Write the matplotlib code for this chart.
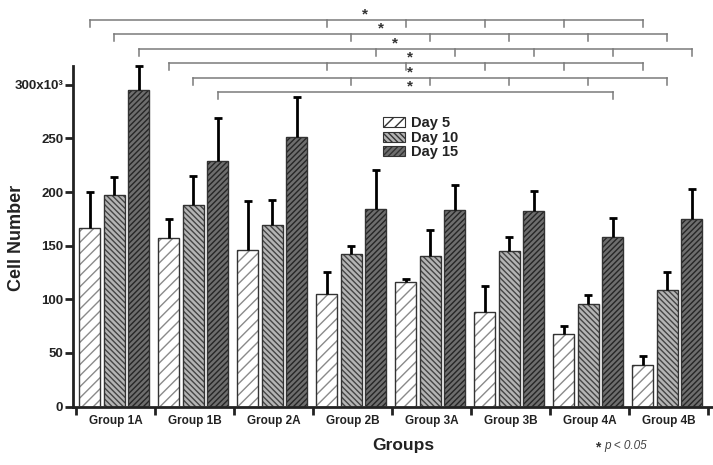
import matplotlib
matplotlib.use("Agg")
import matplotlib.pyplot as plt
import numpy as np

plt.rcParams['font.family'] = ['Liberation Sans', 'DejaVu Sans']
plt.rcParams['hatch.linewidth'] = 1.0

groups = ['Group 1A', 'Group 1B', 'Group 2A', 'Group 2B',
          'Group 3A', 'Group 3B', 'Group 4A', 'Group 4B']
days = ['Day 5', 'Day 10', 'Day 15']

# mean cell number (x10^3) and upper error
day5 = [166, 157, 146, 105, 116, 88, 68, 39]
day5_err = [34, 18, 46, 20, 3, 24, 7, 8]
day10 = [197, 188, 169, 142, 140, 145, 96, 109]
day10_err = [17, 27, 24, 8, 25, 13, 8, 16]
day15 = [295, 229, 251, 184, 183, 182, 158, 175]
day15_err = [23, 40, 38, 37, 24, 19, 18, 28]

yticks = [0, 50, 100, 150, 200, 250, 300]
ytick_labels = ['0', '50', '100', '150', '200', '250', '300x10³']

# significance brackets: (day index, reference group, compared groups)
brackets = [
    (0, 0, [3, 4, 5, 6, 7]),
    (1, 0, [3, 4, 5, 6, 7]),
    (2, 0, [3, 4, 5, 6, 7]),
    (0, 1, [3, 4, 5, 6, 7]),
    (1, 1, [3, 4, 5, 6, 7]),
    (2, 1, [6]),
]
star_x = [3.16, 3.36, 3.54, 3.72, 3.73, 3.73]

# styles
offsets = [-0.33, -0.02, 0.29]
width = 0.265
faces = ['white', '#b4b4b4', '#6e6e6e']
hatch_cols = ['#8a8a8a', '#444444', '#262626']
hatches = ['///', '\\\\\\\\\\\\', '//////']

fig = plt.figure(figsize=(7.13, 4.65), dpi=100)
ax = fig.add_axes([73/713, (465-406.5)/465, 640/713, 406.5/465])
ax.set_xlim(-0.54, 7.56)
ax.set_ylim(0, 406.5/1.0723)

x = np.arange(len(groups))
series = [(day5, day5_err), (day10, day10_err), (day15, day15_err)]
for i, (vals, errs) in enumerate(series):
    xs = x + offsets[i]
    ax.bar(xs, vals, width, color=faces[i], edgecolor=hatch_cols[i],
           hatch=hatches[i], linewidth=0, zorder=2)
    ax.bar(xs, vals, width, fill=False, edgecolor='#333333', linewidth=1.0, zorder=3)
    eb = ax.errorbar(xs, vals, yerr=[np.zeros(len(vals)), errs], fmt='none',
                     ecolor='black', elinewidth=2, capsize=2.6, capthick=2, zorder=4)
    eb[1][0].set_visible(False)  # no cap at bar top

# brackets
level0 = 360.5
step = 13.5
tick = 6.5
for k, (d, ref, targets) in enumerate(brackets):
    yb = level0 - k*step
    x0 = ref + offsets[d]
    xt = [t + offsets[d] for t in targets]
    ax.plot([x0, xt[-1]], [yb, yb], color='#7a7a7a', lw=1.1, clip_on=False)
    for xx in [x0] + xt:
        ax.plot([xx, xx], [yb, yb - tick], color='#7a7a7a', lw=1.1, clip_on=False)
    ax.text(star_x[k], yb + 5.3, '*', ha='center', va='center',
            fontsize=11, fontweight='bold', color='#333333')

# axes styling
for s in ['top', 'right']:
    ax.spines[s].set_visible(False)
ax.spines['left'].set_bounds(0, 318)
for s in ['left', 'bottom']:
    ax.spines[s].set_linewidth(2)
    ax.spines[s].set_color('#222222')

ax.set_yticks(yticks)
ax.set_yticklabels(ytick_labels, fontsize=9.5, fontweight='bold', color='#222222')
ax.tick_params(axis='y', direction='out', length=6, width=2, pad=1, color='#222222')

ax.set_xticks(np.arange(len(groups) + 1) - 0.5)
ax.set_xticklabels([])
ax.tick_params(axis='x', which='major', direction='out', length=6, width=2, color='#222222')
ax.set_xticks(x, minor=True)
ax.set_xticklabels(groups, minor=True, fontsize=8.5, fontweight='bold', color='#222222')
ax.tick_params(axis='x', which='minor', length=0, pad=6)

# legend with outlined hatched patches
handles = [plt.Rectangle((0, 0), 1, 1, facecolor=faces[i], edgecolor='#333333',
                         hatch=hatches[i], linewidth=0.8) for i in range(3)]
leg = ax.legend(handles, days, loc='upper left', bbox_to_anchor=(383/713, 1 - 116/465),
                bbox_transform=fig.transFigure, frameon=False, fontsize=10.5,
                handlelength=1.5, handleheight=0.7, handletextpad=0.45,
                labelspacing=0.05, borderpad=0, borderaxespad=0)
for t in leg.get_texts():
    t.set_fontweight('bold')
    t.set_color('#222222')

fig.text(17/713, 1 - 238/465, 'Cell Number', rotation=90, ha='center', va='center',
         fontsize=13, fontweight='bold', color='#222222')
fig.text(403/713, 1 - 445/465, 'Groups', ha='center', va='center',
         fontsize=12.5, fontweight='bold', color='#222222')
fig.text(598/713, 1 - 447/465, '*', ha='center', va='center',
         fontsize=10, fontweight='bold', color='#333333')
fig.text(604/713, 1 - 446/465, 'p < 0.05', ha='left', va='center',
         fontsize=8.5, style='italic', color='#444444')

fig.savefig('out.png', dpi=100)
